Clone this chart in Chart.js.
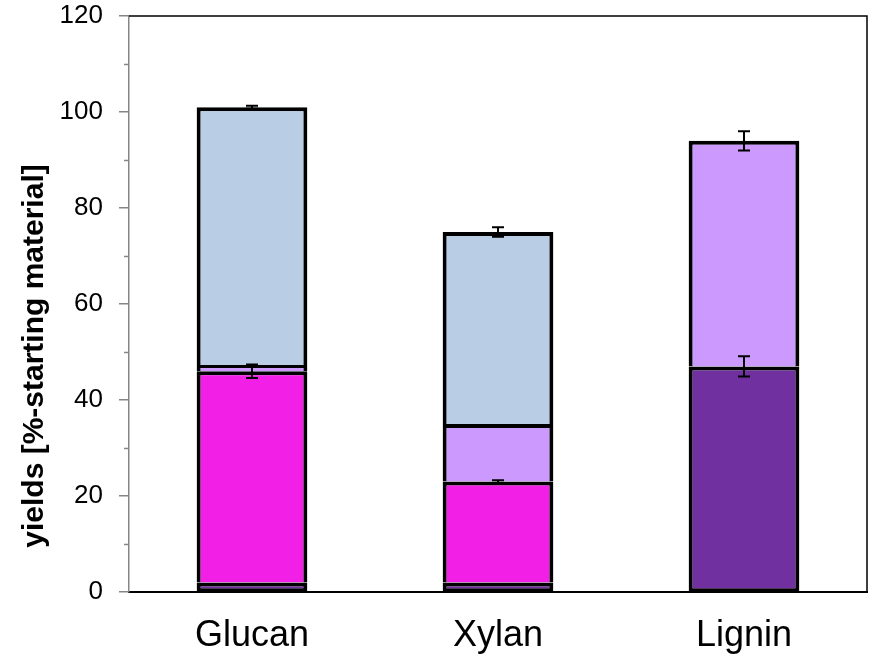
<!DOCTYPE html>
<html>
<head>
<meta charset="utf-8">
<script src="https://cdn.jsdelivr.net/npm/chart.js@4.4.0/dist/chart.umd.min.js"></script>
<style>
html,body{margin:0;padding:0;background:#fff;}
#wrap{width:869px;height:659px;}
</style>
</head>
<body>
<div id="wrap"><canvas id="c" width="869" height="659"></canvas></div>
<script>
// ---- data ----
const categories = ['Glucan', 'Xylan', 'Lignin'];
// stacked segment heights (bottom to top)
const darkPurple  = [2, 2, 47];
const magenta     = [44, 21, null];
const lightPurple = [1.3, 12, 47];
const lightBlue   = [53.7, 40, null];
// error bars (± at top of each segment)
const darkPurpleErr  = [null, null, 2.1];
const magentaErr     = [1.4, 0.3, null];
const lightPurpleErr = [null, null, 2];
const lightBlueErr   = [0.3, 1, null];
const yMajorTicks = [0, 20, 40, 60, 80, 100, 120];
const yMinorTicks = [10, 30, 50, 70, 90, 110];
const yTitle = 'yields [%-starting material]';

const FONT = "'Liberation Sans', Arial, sans-serif";
const borderTop = {top: 4, left: 4, right: 4, bottom: 0};
const borderBottom = {top: 4, left: 4, right: 4, bottom: 3};

function ds(label, data, color, err, bw) {
  return {
    label: label, data: data, backgroundColor: color, borderColor: '#000',
    borderWidth: bw, borderSkipped: false, errors: err,
    barPercentage: 0.45, categoryPercentage: 1.0
  };
}

const errorBarPlugin = {
  id: 'errorBars',
  afterDatasetsDraw(chart) {
    const ctx = chart.ctx;
    const yScale = chart.scales.y;
    const sets = chart.data.datasets;
    ctx.save();
    ctx.strokeStyle = '#000';
    ctx.lineWidth = 2;
    sets.forEach((d, i) => {
      const meta = chart.getDatasetMeta(i);
      d.errors.forEach((e, j) => {
        if (e == null || d.data[j] == null) return;
        let top = 0;
        for (let k = 0; k <= i; k++) top += (sets[k].data[j] || 0);
        const x = meta.data[j].x;
        const y1 = yScale.getPixelForValue(top + e);
        const y2 = yScale.getPixelForValue(top - e);
        ctx.beginPath();
        ctx.moveTo(x, y1); ctx.lineTo(x, y2);
        ctx.moveTo(x - 6, y1); ctx.lineTo(x + 6, y1);
        ctx.moveTo(x - 6, y2); ctx.lineTo(x + 6, y2);
        ctx.stroke();
      });
    });
    ctx.restore();
  }
};

const framePlugin = {
  id: 'frame',
  afterDraw(chart) {
    const ctx = chart.ctx;
    const a = chart.chartArea;
    const yScale = chart.scales.y;
    ctx.save();
    // minor ticks
    ctx.strokeStyle = '#868686';
    ctx.lineWidth = 1.5;
    yMinorTicks.forEach(v => {
      const y = Math.round(yScale.getPixelForValue(v)) + 0.5;
      ctx.beginPath(); ctx.moveTo(a.left - 5, y); ctx.lineTo(a.left, y); ctx.stroke();
    });
    // top and right frame
    ctx.strokeStyle = '#000';
    ctx.lineWidth = 1.5;
    ctx.beginPath();
    ctx.moveTo(a.left, a.top); ctx.lineTo(a.right, a.top); ctx.lineTo(a.right, a.bottom);
    ctx.stroke();
    // y title
    ctx.fillStyle = '#000';
    ctx.font = 'bold 30px ' + FONT;
    ctx.textAlign = 'center';
    ctx.textBaseline = 'middle';
    ctx.translate(35, 356);
    ctx.rotate(-Math.PI / 2);
    ctx.fillText(yTitle, 0, 0);
    ctx.restore();
  }
};

new Chart(document.getElementById('c'), {
  type: 'bar',
  data: {
    labels: categories,
    datasets: [
      ds('dark purple', darkPurple, '#7030A0', darkPurpleErr, borderBottom),
      ds('magenta', magenta, '#F21FE6', magentaErr, borderTop),
      ds('light purple', lightPurple, '#CC99FF', lightPurpleErr, borderTop),
      ds('light blue', lightBlue, '#B9CDE5', lightBlueErr, borderTop)
    ]
  },
  options: {
    responsive: false,
    devicePixelRatio: 1,
    animation: false,
    layout: {padding: {top: 16, right: 2, bottom: 0, left: 0}},
    plugins: {legend: {display: false}, tooltip: {enabled: false}},
    scales: {
      x: {
        stacked: true,
        grid: {display: false, drawTicks: false},
        border: {display: true, color: '#000', width: 2},
        ticks: {color: '#000', font: {family: FONT, size: 36}, padding: 22},
        afterFit(s) { s.height = 67; s.paddingLeft = 0; s.paddingRight = 0; }
      },
      y: {
        stacked: true,
        min: 0, max: 120,
        afterBuildTicks(s) { s.ticks = yMajorTicks.map(v => ({value: v})); },
        grid: {drawOnChartArea: false, drawTicks: true, tickLength: 10, color: '#868686', lineWidth: 1.5},
        border: {display: true, color: '#868686', width: 1.5},
        ticks: {color: '#000', font: {family: FONT, size: 26}, padding: 16},
        afterFit(s) { s.width = 129; s.paddingTop = 0; s.paddingBottom = 0; }
      }
    }
  },
  plugins: [errorBarPlugin, framePlugin]
});
</script>
</body>
</html>
